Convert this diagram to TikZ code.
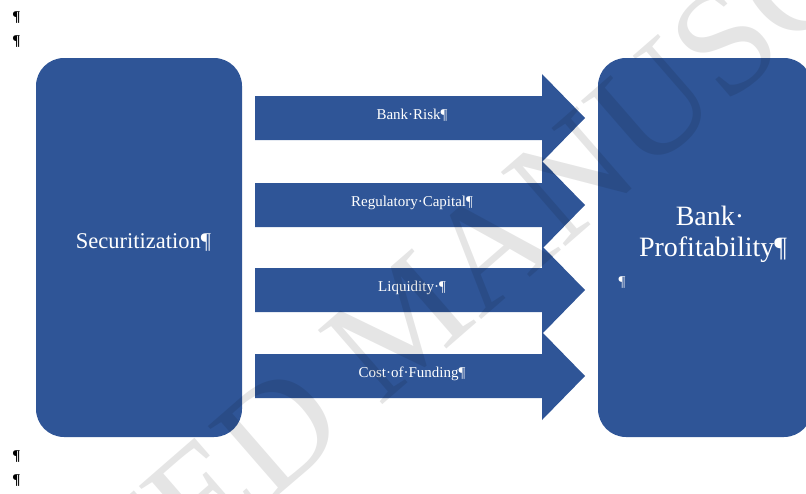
\documentclass[tikz,border=0pt]{standalone}
\usepackage{fontspec}
\setmainfont{Liberation Serif}
\usepackage{tikz}
\usetikzlibrary{positioning}
\definecolor{boxblue}{RGB}{47,85,151}
\tikzset{
	panel/.style={fill=boxblue, rounded corners=28pt, minimum width=206pt, minimum height=379pt, inner sep=0pt},
	lbl/.style={text=white, anchor=base, inner sep=0pt, font=\fontsize{15}{17}\selectfont},
	pil/.style={anchor=base, inner sep=0pt, font=\bfseries\fontsize{15}{17}\selectfont},
}

\begin{document}
\begin{tikzpicture}[x=1pt,y=-1pt]
	\useasboundingbox (0,0) rectangle (806,493);
	\clip (0,0) rectangle (806,493);
	%
	\foreach \y [count=\i] in {21,45,460,484}
	\node[pil] (p\i) at (16.5,\y) {¶};
	
	% boxes
	\node[panel] (sec) at (139,247.5) {};
	\node[panel, minimum width=214pt] (prof) at (705,247.5) {};
	\node[lbl, font=\fontsize{22.5}{25}\selectfont] (sectxt) at (143.5,248) {Securitization¶};
	\node[lbl, font=\fontsize{28}{32}\selectfont] (bank) at (710,225) {Bank·};
	\node[lbl, font=\fontsize{28}{32}\selectfont] (proftxt) at (713,256) {Profitability¶};
	\node[lbl] (pe) at (622,286) {¶};
	
	% arrows
	\foreach \yc/\txt [count=\i] in {118/Bank·Risk¶, 205/Regulatory·Capital¶, 290/Liquidity·¶, 376/Cost·of·Funding¶}
	{
		\fill[boxblue] (255,\yc-22) -- (542,\yc-22) -- (542,\yc-44) -- (585,\yc) -- (542,\yc+44) -- (542,\yc+22) -- (255,\yc+22) -- cycle;
		\node[lbl] (a\i) at (412,\yc+1) {\txt};
	}
	
	% watermark
	\node[rotate=41, text=black, text opacity=.1, font=\fontsize{150}{150}\selectfont] (wm) at (406,320) {ACCEPTED MANUSCRIPT};
\end{tikzpicture}
\end{document}
